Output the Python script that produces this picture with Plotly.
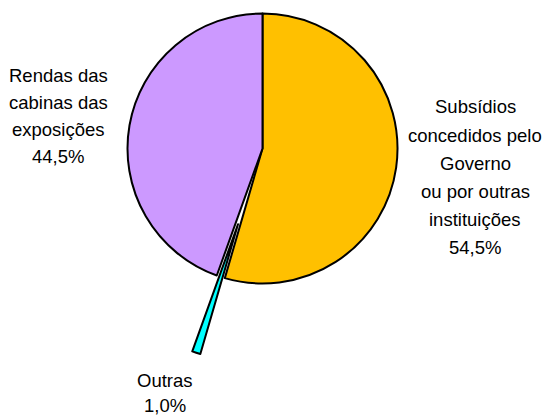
import plotly.graph_objects as go

# --- Dados ---
categorias = ["Subsídios\nconcedidos pelo\nGoverno\nou por outras\ninstituições",
              "Outras",
              "Rendas das\ncabinas das\nexposições"]
valores = [54.5, 1.0, 44.5]
cores = ["#FFC000", "#00FFFF", "#CC99FF"]
destaque = 1  # fatia "Outras", destacada do bolo

W, H = 550, 415
FONTE = "Liberation Sans, Arial, sans-serif"


def dominio(cx, cy, r):
    # domínio do pie em coordenadas de papel a partir do centro/raio em pixels
    return dict(x=[(cx - r) / W, (cx + r) / W], y=[1 - (cy + r) / H, 1 - (cy - r) / H])


def pct(v):
    return f"{v:.1f}".replace(".", ",") + "%"


transp = "rgba(0,0,0,0)"
raio = 135

# bolo principal, com o lugar da fatia destacada vazio
cores_bolo = [transp if i == destaque else c for i, c in enumerate(cores)]
linhas_bolo = [transp if i == destaque else "black" for i in range(len(valores))]

# só a fatia destacada, deslocada ao longo da sua bissetriz
cores_fatia = [c if i == destaque else transp for i, c in enumerate(cores)]
linhas_fatia = ["black" if i == destaque else transp for i in range(len(valores))]

fig = go.Figure()
fig.add_trace(go.Pie(
    labels=categorias, values=valores, sort=False, direction="clockwise", rotation=0,
    marker=dict(colors=cores_bolo, line=dict(color=linhas_bolo, width=2)),
    textinfo="none", hoverinfo="skip", showlegend=False,
    domain=dominio(262.5, 148.5, raio),
))
fig.add_trace(go.Pie(
    labels=categorias, values=valores, sort=False, direction="clockwise", rotation=0,
    marker=dict(colors=cores_fatia, line=dict(color=linhas_fatia, width=2)),
    textinfo="none", hoverinfo="skip", showlegend=False,
    domain=dominio(238, 224.3, raio),
))

# rótulos: (centro x, centro y da 1a linha, entrelinha) em pixels
posicoes = [(475, 107, 28), (165, 380, 25), (58, 75, 27)]
for cat, v, (px, py, passo) in zip(categorias, valores, posicoes):
    linhas = cat.split("\n") + [pct(v)]
    for k, txt in enumerate(linhas):
        fig.add_annotation(
            text=txt, x=px / W, y=1 - (py + k * passo) / H, xref="paper", yref="paper",
            xanchor="center", yanchor="middle", showarrow=False,
            font=dict(family=FONTE, size=18.5, color="black"),
        )

fig.update_layout(
    width=W, height=H,
    margin=dict(l=0, r=0, t=0, b=0),
    paper_bgcolor="white", plot_bgcolor="white",
)

fig.write_html("out.html", config={"displayModeBar": False},
               post_script="document.body.style.margin='0';")
